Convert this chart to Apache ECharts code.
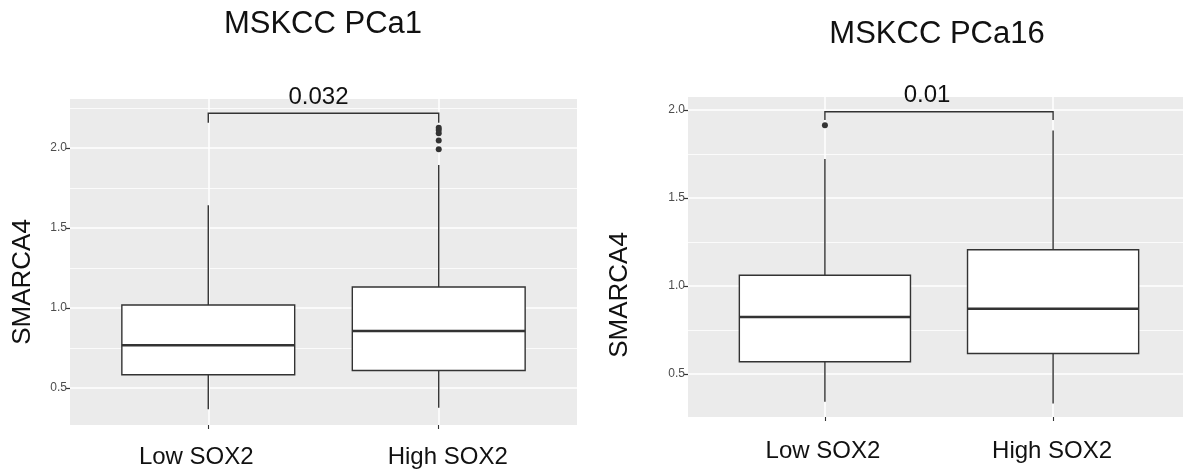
<!DOCTYPE html>
<html>
<head>
<meta charset="utf-8">
<script src="https://cdn.jsdelivr.net/npm/echarts@6/dist/echarts.min.js"></script>
<style>
html,body{margin:0;padding:0;background:#fff;}
#chart{width:1183px;height:474px;}
</style>
</head>
<body>
<div id="chart"></div>
<script>
// ---- data ----
const categories = ['Low SOX2', 'High SOX2'];
const titles = ['MSKCC PCa1', 'MSKCC PCa16'];
const yTickValues = [0.5, 1.0, 1.5, 2.0];
const yMinorValues = [0.75, 1.25, 1.75, 2.25];
// [min, Q1, median, Q3, max]
const pca1Low = [0.367, 0.583, 0.767, 1.019, 1.642];
const pca1High = [0.377, 0.610, 0.856, 1.131, 1.894];
const pca1Outliers = [[1, 1.992], [1, 2.046], [1, 2.092], [1, 2.112], [1, 2.127]];
const pca16Low = [0.343, 0.570, 0.824, 1.061, 1.722];
const pca16High = [0.333, 0.617, 0.871, 1.206, 1.883];
const pca16Outliers = [[0, 1.913]];
// bracket: [from, to, lowY, highY]
const pca1Bracket = [0, 1, 2.158, 2.217];
const pca16Bracket = [0, 1, 1.943, 1.990];
const pValues = ['0.032', '0.01'];

const FONT = '"Liberation Sans", Arial, Helvetica, sans-serif';
const chart = echarts.init(document.getElementById('chart'));

function boxRender(params, api) {
  const x = api.value(0);
  const mn = api.value(1), q1 = api.value(2), md = api.value(3), q3 = api.value(4), mx = api.value(5);
  const w = api.size([0.75, 0])[0];
  const pMin = api.coord([x, mn]), pQ1 = api.coord([x, q1]), pMd = api.coord([x, md]);
  const pQ3 = api.coord([x, q3]), pMax = api.coord([x, mx]);
  const line = {stroke: '#333333', lineWidth: 1.4};
  return {
    type: 'group',
    children: [
      {type: 'line', shape: {x1: pQ3[0], y1: pQ3[1], x2: pMax[0], y2: pMax[1]}, style: line},
      {type: 'line', shape: {x1: pQ1[0], y1: pQ1[1], x2: pMin[0], y2: pMin[1]}, style: line},
      {type: 'rect', shape: {x: pQ3[0] - w / 2, y: pQ3[1], width: w, height: pQ1[1] - pQ3[1]},
        style: {fill: '#ffffff', stroke: '#333333', lineWidth: 1.4}},
      {type: 'line', shape: {x1: pMd[0] - w / 2, y1: pMd[1], x2: pMd[0] + w / 2, y2: pMd[1]},
        style: {stroke: '#333333', lineWidth: 2.6}}
    ]
  };
}

function bracketRenderFactory(label, dx) {
  return function (params, api) {
    const a = api.value(0), b = api.value(1), lo = api.value(2), hi = api.value(3);
    const p1 = api.coord([a, lo]), p2 = api.coord([a, hi]), p3 = api.coord([b, hi]), p4 = api.coord([b, lo]);
    const mid = api.coord([(a + b) / 2, hi]);
    return {
      type: 'group',
      children: [
        {type: 'polyline', shape: {points: [p1, p2, p3, p4]}, style: {stroke: '#333333', lineWidth: 1.4, fill: null}},
        {type: 'text', x: mid[0] + dx, y: mid[1] - 4,
          style: {text: label, align: 'center', verticalAlign: 'bottom', font: '24px ' + FONT, fill: '#111111'}}
      ]
    };
  };
}

function yAxisMain(gridIndex, min, max, nameGap, namePad) {
  return {
    type: 'value', gridIndex: gridIndex, min: min, max: max, position: 'left', offset: 0,
    name: 'SMARCA4', nameLocation: 'middle', nameGap: nameGap, nameRotate: 90,
    nameTextStyle: {fontFamily: FONT, fontSize: 26, color: '#111111', padding: [0, namePad, 0, 0]},
    axisLine: {show: false},
    axisTick: {show: true, length: 4, lineStyle: {color: '#333333', width: 1.2}, customValues: yTickValues},
    axisLabel: {show: true, customValues: yTickValues, margin: 3, fontFamily: FONT, fontSize: 12, color: '#4D4D4D',
      formatter: v => v.toFixed(1)},
    splitLine: {show: true, lineStyle: {color: '#ffffff', width: 1.5}}
  };
}
function yAxisMinor(gridIndex, min, max) {
  return {
    type: 'value', gridIndex: gridIndex, min: min, max: max, position: 'left', offset: 0,
    axisLine: {show: false},
    axisTick: {show: false, customValues: yMinorValues},
    axisLabel: {show: false, customValues: yMinorValues},
    splitLine: {show: true, lineStyle: {color: '#ffffff', width: 0.8}}
  };
}
function xAxis(gridIndex, shifts, margin) {
  return {
    type: 'value', gridIndex: gridIndex, min: -0.6, max: 1.6,
    axisLine: {show: false},
    axisTick: {show: true, length: 4, lineStyle: {color: '#333333', width: 1.1}, customValues: [0, 1]},
    axisLabel: {show: true, customValues: [0, 1], margin: margin,
      formatter: v => (Math.round(v) === 0 ? '{a|' : '{b|') + categories[Math.round(v)] + '}',
      rich: {
        a: {fontFamily: FONT, fontSize: 24, color: '#111111', padding: shifts[0]},
        b: {fontFamily: FONT, fontSize: 24, color: '#111111', padding: shifts[1]}
      }},
    splitLine: {show: true, lineStyle: {color: '#ffffff', width: 1.5}}
  };
}

const option = {
  backgroundColor: '#ffffff',
  animation: false,
  graphic: [
    {type: 'text', x: 323, y: 9, style: {text: titles[0], align: 'center', verticalAlign: 'top', font: '31px ' + FONT, fill: '#111111'}},
    {type: 'text', x: 937, y: 19, style: {text: titles[1], align: 'center', verticalAlign: 'top', font: '31px ' + FONT, fill: '#111111'}}
  ],
  grid: [
    {left: 70, top: 99, width: 507, height: 326, show: true, backgroundColor: '#EBEBEB', borderWidth: 0, containLabel: false, outerBoundsMode: 'none'},
    {left: 688, top: 97, width: 502, height: 320, show: true, backgroundColor: '#EBEBEB', borderWidth: 0, containLabel: false, outerBoundsMode: 'none'}
  ],
  xAxis: [
    xAxis(0, [[0, 24, 0, 0], [0, 0, 0, 18]], 20),
    xAxis(1, [[0, 4, 0, 0], [0, 2, 0, 0]], 22)
  ],
  yAxis: [
    yAxisMinor(0, 0.269, 2.306),
    yAxisMain(0, 0.269, 2.306, 34, 40),
    yAxisMinor(1, 0.256, 2.074),
    yAxisMain(1, 0.256, 2.074, 55, 76)
  ],
  series: [
    {type: 'custom', xAxisIndex: 0, yAxisIndex: 1, renderItem: boxRender,
      encode: {x: 0, y: [1, 2, 3, 4, 5]}, data: [[0].concat(pca1Low), [1].concat(pca1High)], z: 3},
    {type: 'scatter', xAxisIndex: 0, yAxisIndex: 1, symbolSize: 6, itemStyle: {color: '#333333', opacity: 1}, data: pca1Outliers, z: 4},
    {type: 'custom', xAxisIndex: 0, yAxisIndex: 1, renderItem: bracketRenderFactory(pValues[0], -5),
      encode: {x: [0, 1], y: [2, 3]}, data: [pca1Bracket], z: 4},
    {type: 'custom', xAxisIndex: 1, yAxisIndex: 3, renderItem: boxRender,
      encode: {x: 0, y: [1, 2, 3, 4, 5]}, data: [[0].concat(pca16Low), [1].concat(pca16High)], z: 3},
    {type: 'scatter', xAxisIndex: 1, yAxisIndex: 3, symbolSize: 6, itemStyle: {color: '#333333', opacity: 1}, data: pca16Outliers, z: 4},
    {type: 'custom', xAxisIndex: 1, yAxisIndex: 3, renderItem: bracketRenderFactory(pValues[1], -12),
      encode: {x: [0, 1], y: [2, 3]}, data: [pca16Bracket], z: 4}
  ]
};
chart.setOption(option);
</script>
</body>
</html>
